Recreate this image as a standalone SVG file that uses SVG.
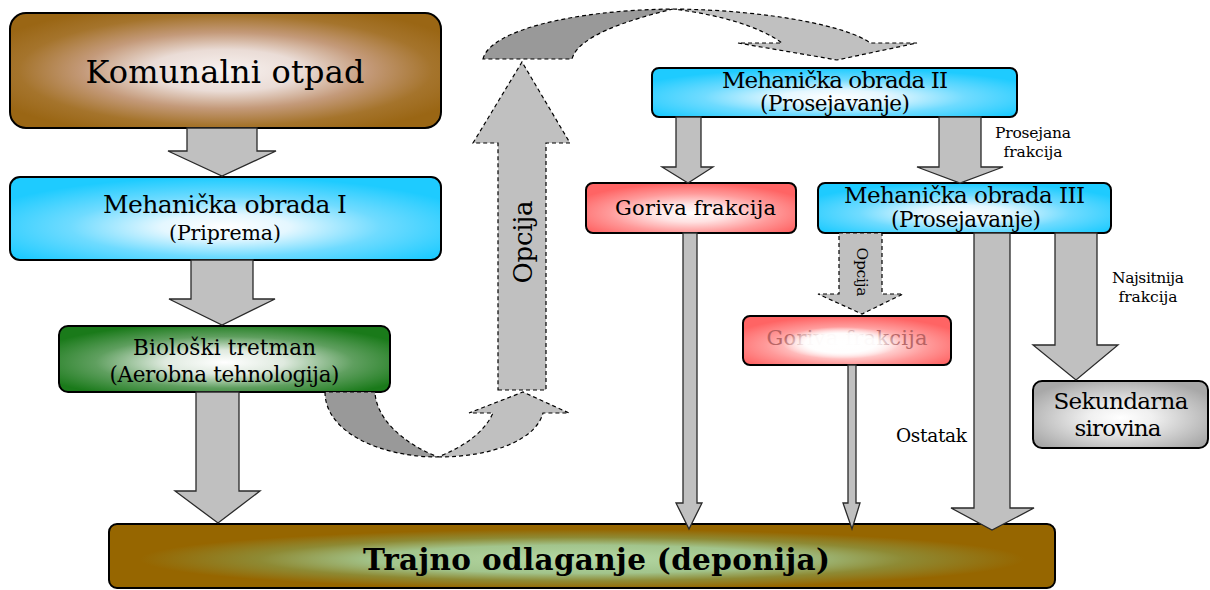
<svg xmlns="http://www.w3.org/2000/svg" width="1210" height="590" viewBox="0 0 1210 590">
<defs>
<radialGradient id="gKom" cx="0.5" cy="0.5" r="0.6">
<stop offset="0" stop-color="#f8f2f0"/><stop offset="0.3" stop-color="#eadcd6"/><stop offset="0.55" stop-color="#c49a7a"/><stop offset="0.8" stop-color="#a5742c"/><stop offset="1" stop-color="#9a6614"/>
</radialGradient>
<radialGradient id="gCyan" cx="0.5" cy="0.6" r="0.6">
<stop offset="0" stop-color="#ffffff"/><stop offset="0.25" stop-color="#e4f7ff"/><stop offset="0.6" stop-color="#6fdbff"/><stop offset="1" stop-color="#1ecbff"/>
</radialGradient>
<radialGradient id="gGreen" cx="0.5" cy="0.55" r="0.6">
<stop offset="0" stop-color="#ffffff"/><stop offset="0.3" stop-color="#dfeadf"/><stop offset="0.65" stop-color="#5f9f5f"/><stop offset="1" stop-color="#1a7a1a"/>
</radialGradient>
<radialGradient id="gRed" cx="0.5" cy="0.6" r="0.6">
<stop offset="0" stop-color="#ffffff"/><stop offset="0.3" stop-color="#ffe2e2"/><stop offset="0.65" stop-color="#ff9a9a"/><stop offset="1" stop-color="#ff6464"/>
</radialGradient>
<radialGradient id="gGrey" cx="0.5" cy="0.55" r="0.6">
<stop offset="0" stop-color="#ffffff"/><stop offset="0.3" stop-color="#f0f0f0"/><stop offset="0.65" stop-color="#cccccc"/><stop offset="1" stop-color="#a8a8a8"/>
</radialGradient>
<radialGradient id="gTrajno" cx="0.5" cy="0.55" r="0.55">
<stop offset="0" stop-color="#b4d8a4"/><stop offset="0.4" stop-color="#a2c48c"/><stop offset="0.62" stop-color="#8e8a34"/><stop offset="0.85" stop-color="#966600"/><stop offset="1" stop-color="#966600"/>
</radialGradient>
<radialGradient id="gGlow" cx="0.5" cy="0.5" r="0.5">
<stop offset="0" stop-color="#ffffff" stop-opacity="1"/><stop offset="0.6" stop-color="#ffffff" stop-opacity="0.95"/><stop offset="1" stop-color="#ffffff" stop-opacity="0"/>
</radialGradient>
</defs>
<style>
.box{stroke:#000;stroke-width:2}
.t{font-family:"DejaVu Serif","Liberation Serif",serif;fill:#000;text-anchor:middle}
.arr{fill:#c0c0c0;stroke:#2a2a2a;stroke-width:1.3;stroke-linejoin:miter}
.dash{fill:#c0c0c0;stroke:#000;stroke-width:1.2;stroke-dasharray:4 3}
.dashd{fill:#999999;stroke:#000;stroke-width:1.2;stroke-dasharray:4 3}
</style>

<g id="node-komunalni">
<rect class="box" x="10" y="13" width="431" height="115" rx="16" fill="url(#gKom)"/>
<text class="t" x="225" y="83" font-size="32" textLength="279">Komunalni otpad</text>
</g>
<g id="node-meh1">
<rect class="box" x="10" y="177" width="431" height="83" rx="10" fill="url(#gCyan)"/>
<text class="t" x="225" y="213" font-size="25" textLength="244">Mehanička obrada I</text>
<text class="t" x="225" y="240" font-size="20.5" textLength="112">(Priprema)</text>
</g>
<g id="node-bio">
<rect class="box" x="59" y="326" width="331" height="66" rx="9" fill="url(#gGreen)"/>
<text class="t" x="224.5" y="355" font-size="21.5" textLength="183">Biološki tretman</text>
<text class="t" x="224.5" y="382" font-size="21.5" textLength="230">(Aerobna tehnologija)</text>
</g>
<g id="node-meh2">
<rect class="box" x="652" y="68" width="365" height="49" rx="7" fill="url(#gCyan)"/>
<text class="t" x="835" y="88" font-size="23" textLength="226">Mehanička obrada II</text>
<text class="t" x="835" y="111" font-size="21.5" textLength="150">(Prosejavanje)</text>
</g>
<g id="node-goriva1">
<rect class="box" x="586" y="183" width="210" height="50" rx="7" fill="url(#gRed)"/>
<text class="t" x="695.5" y="215" font-size="21" textLength="161">Goriva frakcija</text>
</g>
<g id="node-meh3">
<rect class="box" x="818" y="183" width="293" height="50" rx="7" fill="url(#gCyan)"/>
<text class="t" x="964.5" y="203" font-size="23" textLength="241">Mehanička obrada III</text>
<text class="t" x="966" y="227" font-size="21.5" textLength="150">(Prosejavanje)</text>
</g>
<g id="node-goriva2">
<rect class="box" x="743" y="316" width="208" height="49" rx="7" fill="url(#gRed)"/>
<text class="t" x="847" y="345" font-size="21" textLength="161" style="fill:#a85555" opacity="0.8">Goriva frakcija</text>
<rect x="782" y="327" width="118" height="32" fill="url(#gGlow)"/>
</g>
<g id="node-sekundarna">
<rect class="box" x="1033" y="381" width="175" height="67" rx="9" fill="url(#gGrey)"/>
<text class="t" x="1121" y="409" font-size="23" textLength="135">Sekundarna</text>
<text class="t" x="1118" y="436" font-size="23" textLength="87">sirovina</text>
</g>
<g id="node-trajno">
<rect class="box" x="109" y="524" width="946" height="64" rx="8" fill="url(#gTrajno)"/>
<text class="t" x="596.5" y="570" font-size="29.5" font-weight="bold" textLength="467">Trajno odlaganje (deponija)</text>
</g>

<g id="connectors">
<polygon class="arr" points="187,128 257,128 257,151 276,151 222,176 168,151 187,151"/>
<polygon class="arr" points="191,260 253,260 253,299 275,299 222,325 169,299 191,299"/>
<polygon class="arr" points="196,392 239,392 239,491 260,491 218,523 175,491 196,491"/>
<polygon class="arr" points="676,117 701,117 701,167 713,167 688,183 662,167 676,167"/>
<polygon class="arr" points="939,117 981,117 981,167 1003,167 960,183 917,167 939,167"/>
<polygon class="arr" points="683,233 697,233 697,503 702,503 689,529 676,503 683,503"/>
<polygon class="dash" points="839,233 882,233 882,294 903,294 862,314 818,294 839,294"/>
<polygon class="arr" points="848,365 856,365 856,503 860,503 852,529 843,503 848,503"/>
<polygon class="arr" points="974,233 1010,233 1010,508 1034,508 992,530 951,508 974,508"/>
<polygon class="arr" points="1055,233 1097,233 1097,345 1118,345 1076,380 1033,345 1055,345"/>
<polygon class="dash" points="498,390 546,390 546,143 570,143 522,62 473,143 498,143"/>
<path class="dashd" d="M325,392 C325,432 380,457 438,457 C402,443 376,418 375,392 Z"/>
<path class="dash" d="M438,457 C492,457 536,440 543,413 L569,413 L523,392 L469,413 L493,413 C484,433 463,447 438,457 Z"/>
<path class="dashd" d="M483,59 C490,30 575,10 673,9 C628,20 578,36 572,59 Z"/>
<path class="dash" d="M673,9 C770,10 850,27 870,43 L917,43 L837,60 L738,43 L782,43 C760,27 722,15 673,9 Z"/>
<text class="t" transform="translate(532,242) rotate(-90)" font-size="26" textLength="83">Opcija</text>
<text class="t" transform="translate(857,272) rotate(90)" font-size="15.5" textLength="49">Opcija</text>
<text class="t" x="1033" y="138" font-size="15.5" textLength="76">Prosejana</text>
<text class="t" x="1033" y="157" font-size="15.5" textLength="59">frakcija</text>
<text class="t" x="1148" y="283" font-size="15.5" textLength="72">Najsitnija</text>
<text class="t" x="1148" y="302" font-size="15.5" textLength="59">frakcija</text>
<text class="t" x="931.5" y="442" font-size="18.5" textLength="71">Ostatak</text>
</g>
</svg>
